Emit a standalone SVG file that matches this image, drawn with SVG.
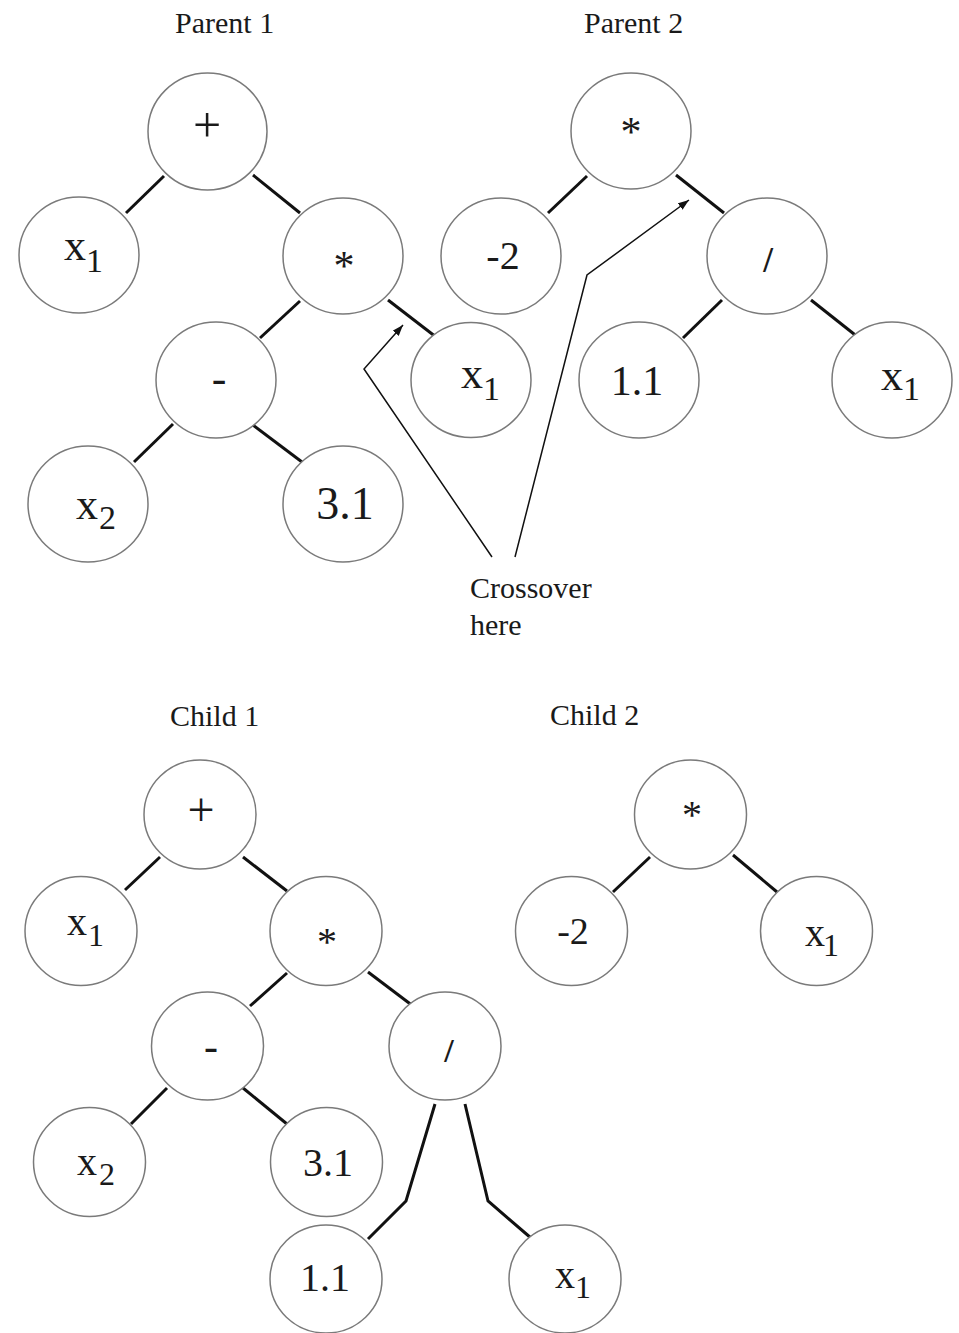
<svg xmlns="http://www.w3.org/2000/svg" width="959" height="1333" viewBox="0 0 959 1333">
<defs>
<marker id="ah" markerUnits="userSpaceOnUse" markerWidth="12" markerHeight="10" refX="11" refY="4" orient="auto">
<path d="M0,0 L11,4 L0,8 Z" fill="#111"/>
</marker>
<style>
.n{fill:#fff;stroke:#7a7a7a;stroke-width:1.5}
.e{stroke:#111;stroke-width:3;fill:none;stroke-linecap:butt}
.a{stroke:#111;stroke-width:1.5;fill:none}
text{font-family:"Liberation Serif","Times New Roman",serif;fill:#1a1a1a}
.t{font-size:30px}
.m{text-anchor:middle}
</style>
</defs>
<rect width="959" height="1333" fill="#fff"/>

<g id="titles">
<text class="t" x="175" y="33">Parent 1</text>
<text class="t" x="584" y="33">Parent 2</text>
<text class="t" x="170" y="726">Child 1</text>
<text class="t" x="550" y="725">Child 2</text>
<text class="t" x="470" y="598">Crossover</text>
<text class="t" x="470" y="635">here</text>
</g>

<g id="connectors">
<!-- Parent 1 -->
<line class="e" x1="164" y1="176" x2="126" y2="213"/>
<line class="e" x1="253" y1="175" x2="300" y2="213"/>
<line class="e" x1="300" y1="301" x2="260" y2="338"/>
<line class="e" x1="388" y1="300" x2="436" y2="337"/>
<line class="e" x1="173" y1="424" x2="134" y2="462"/>
<line class="e" x1="253" y1="425" x2="302" y2="462"/>
<!-- Parent 2 -->
<line class="e" x1="587" y1="176" x2="548" y2="213"/>
<line class="e" x1="676" y1="175" x2="724" y2="213"/>
<line class="e" x1="722" y1="300" x2="683" y2="338"/>
<line class="e" x1="811" y1="300" x2="859" y2="338"/>
<!-- Child 1 -->
<line class="e" x1="160" y1="857" x2="125" y2="890"/>
<line class="e" x1="243" y1="857" x2="287" y2="891"/>
<line class="e" x1="287" y1="973" x2="250" y2="1006"/>
<line class="e" x1="368" y1="972" x2="413" y2="1006"/>
<line class="e" x1="167" y1="1088" x2="131" y2="1124"/>
<line class="e" x1="243" y1="1088" x2="287" y2="1124"/>
<polyline class="e" points="435,1104 406,1201 368,1239"/>
<polyline class="e" points="465,1104 488,1201 531,1238"/>
<!-- Child 2 -->
<line class="e" x1="650" y1="857" x2="613" y2="892"/>
<line class="e" x1="733" y1="855" x2="777" y2="892"/>
<!-- Crossover pointers -->
<polyline class="a" points="492,557 364,369 403,325" marker-end="url(#ah)"/>
<polyline class="a" points="515,557 587,275 689,200" marker-end="url(#ah)"/>
</g>

<g id="p1_plus"><ellipse class="n" cx="207.5" cy="131.5" rx="59.5" ry="58.5"/><text class="m" x="207" y="142" font-size="50">+</text></g>
<g id="p1_x1"><ellipse class="n" cx="79" cy="255" rx="60" ry="58"/><text font-size="44" x="64" y="260">x<tspan x="86" y="272" font-size="34">1</tspan></text></g>
<g id="p1_mul"><ellipse class="n" cx="343" cy="256" rx="60" ry="58"/><text class="m" x="344" y="280" font-size="42">*</text></g>
<g id="p1_minus"><ellipse class="n" cx="216" cy="380" rx="60" ry="58"/><text class="m" x="219" y="393" font-size="44">-</text></g>
<g id="p1_x1b"><ellipse class="n" cx="471" cy="380" rx="60" ry="57.5"/><text font-size="44" x="461" y="388">x<tspan x="483" y="400" font-size="34">1</tspan></text></g>
<g id="p1_x2"><ellipse class="n" cx="88" cy="504" rx="60" ry="58"/><text font-size="44" x="76" y="519">x<tspan x="99" y="529" font-size="34">2</tspan></text></g>
<g id="p1_31"><ellipse class="n" cx="343" cy="504" rx="60" ry="58"/><text class="m" x="345" y="519" font-size="46">3.1</text></g>

<g id="p2_mul"><ellipse class="n" cx="631" cy="131" rx="60" ry="58"/><text class="m" x="631" y="146" font-size="42">*</text></g>
<g id="p2_m2"><ellipse class="n" cx="501" cy="256" rx="60" ry="58"/><text class="m" x="503" y="269" font-size="40">-2</text></g>
<g id="p2_div"><ellipse class="n" cx="767" cy="256" rx="60" ry="58"/><text class="m" x="768" y="272" font-size="35" font-weight="bold">/</text></g>
<g id="p2_11"><ellipse class="n" cx="639" cy="380" rx="60" ry="58"/><text class="m" x="637" y="395" font-size="42">1.1</text></g>
<g id="p2_x1"><ellipse class="n" cx="892" cy="380" rx="60" ry="58"/><text font-size="44" x="881" y="390">x<tspan x="903" y="400" font-size="34">1</tspan></text></g>

<g id="c1_plus"><ellipse class="n" cx="200" cy="814.5" rx="56" ry="54.5"/><text class="m" x="201" y="826" font-size="48">+</text></g>
<g id="c1_x1"><ellipse class="n" cx="81" cy="931" rx="56" ry="54.5"/><text font-size="40" x="67" y="935">x<tspan x="88" y="946" font-size="32">1</tspan></text></g>
<g id="c1_mul"><ellipse class="n" cx="326" cy="931" rx="56" ry="54.5"/><text class="m" x="327" y="955" font-size="40">*</text></g>
<g id="c1_minus"><ellipse class="n" cx="207.5" cy="1046" rx="56" ry="54"/><text class="m" x="211" y="1060" font-size="42">-</text></g>
<g id="c1_div"><ellipse class="n" cx="445" cy="1046" rx="56" ry="54"/><text class="m" x="449" y="1062" font-size="34" font-weight="bold">/</text></g>
<g id="c1_x2"><ellipse class="n" cx="89.5" cy="1162" rx="56" ry="54.5"/><text font-size="40" x="77" y="1175">x<tspan x="99" y="1185" font-size="32">2</tspan></text></g>
<g id="c1_31"><ellipse class="n" cx="326.5" cy="1162" rx="56" ry="54.5"/><text class="m" x="328" y="1176" font-size="40">3.1</text></g>
<g id="c1_11"><ellipse class="n" cx="326" cy="1279" rx="56" ry="54"/><text class="m" x="325" y="1291" font-size="40">1.1</text></g>
<g id="c1_x1b"><ellipse class="n" cx="565" cy="1279" rx="56" ry="54"/><text font-size="40" x="555" y="1288">x<tspan x="575" y="1298" font-size="32">1</tspan></text></g>

<g id="c2_mul"><ellipse class="n" cx="690.5" cy="814.5" rx="56" ry="54.5"/><text class="m" x="692" y="828" font-size="40">*</text></g>
<g id="c2_m2"><ellipse class="n" cx="571.5" cy="931" rx="56" ry="54.5"/><text class="m" x="573" y="944" font-size="38">-2</text></g>
<g id="c2_x1"><ellipse class="n" cx="816.5" cy="931" rx="56" ry="54.5"/><text font-size="40" x="805" y="946">x<tspan x="823" y="956" font-size="32">1</tspan></text></g>
</svg>
